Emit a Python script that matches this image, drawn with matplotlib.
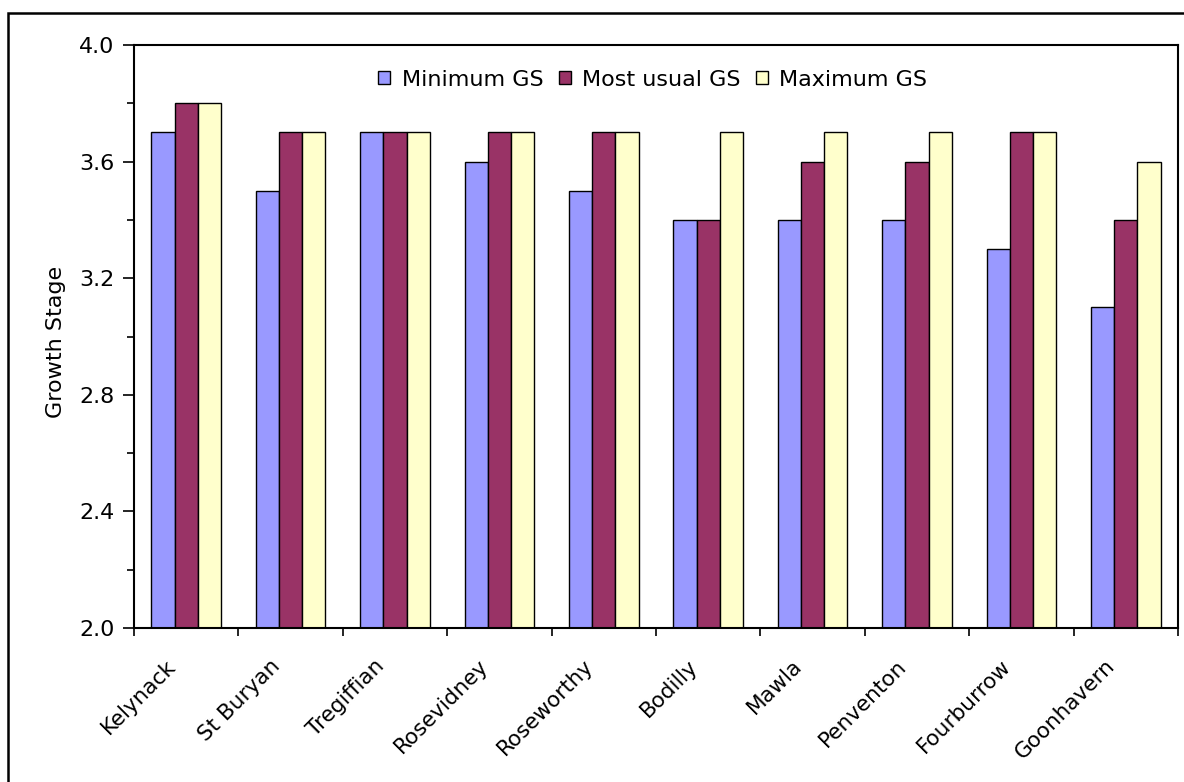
import matplotlib.pyplot as plt
from matplotlib.patches import Rectangle
from matplotlib.ticker import MultipleLocator, FixedLocator
from matplotlib.transforms import ScaledTranslation
import numpy as np

plt.rcParams['font.family'] = ['DejaVu Sans']

sites = ['Kelynack', 'St Buryan', 'Tregiffian', 'Rosevidney', 'Roseworthy',
         'Bodilly', 'Mawla', 'Penventon', 'Fourburrow', 'Goonhavern']
min_gs = [3.7, 3.5, 3.7, 3.6, 3.5, 3.4, 3.4, 3.4, 3.3, 3.1]
usual_gs = [3.8, 3.7, 3.7, 3.7, 3.7, 3.4, 3.6, 3.6, 3.7, 3.4]
max_gs = [3.8, 3.7, 3.7, 3.7, 3.7, 3.7, 3.7, 3.7, 3.7, 3.6]

series = [('Minimum GS', min_gs, '#9999FF'),
          ('Most usual GS', usual_gs, '#993366'),
          ('Maximum GS', max_gs, '#FFFFCC')]

fig = plt.figure(figsize=(11.84, 7.82), dpi=100)
ax = fig.add_axes([134 / 1184, 1 - 628 / 782, 1044 / 1184, 583 / 782])

x = np.arange(len(sites))
w = 1 / 4.5
for i, (name, vals, col) in enumerate(series):
    ax.bar(x + (i - 1) * w, np.array(vals) - 2.0, bottom=2.0, width=w,
           color=col, edgecolor='black', linewidth=1.0, label=name)

ax.set_xlim(-0.5, len(sites) - 0.5)
ax.set_ylim(2.0, 4.0)
ax.yaxis.set_major_locator(MultipleLocator(0.4))
ax.yaxis.set_minor_locator(MultipleLocator(0.2))
ax.yaxis.set_major_formatter(plt.FormatStrFormatter('%.1f'))
ax.tick_params(axis='y', which='major', length=8, width=1.2, labelsize=16, pad=6)
ax.tick_params(axis='y', which='minor', length=5, width=1.2)

# category boundaries get the tick marks, names sit at the centres
ax.xaxis.set_major_locator(FixedLocator(np.arange(len(sites) + 1) - 0.5))
ax.xaxis.set_minor_locator(FixedLocator(x))
ax.set_xticklabels([])
ax.set_xticklabels(sites, minor=True, rotation=45, ha='right',
                   rotation_mode='anchor', fontsize=15.5)
ax.tick_params(axis='x', which='major', length=6, width=1.2)
ax.tick_params(axis='x', which='minor', length=0, pad=20)
shift = ScaledTranslation(-21 / 100, 0, fig.dpi_scale_trans)
for lbl in ax.get_xticklabels(minor=True):
    lbl.set_transform(lbl.get_transform() + shift)

for s in ax.spines.values():
    s.set_linewidth(1.5)

ax.set_ylabel('Growth Stage', fontsize=16)
ax.yaxis.set_label_coords((66 - 134) / 1044, 0.49)

ax.legend(loc='upper center', bbox_to_anchor=(0.497, 0.992), ncol=3, frameon=False,
          fontsize=16, handlelength=0.55, handleheight=0.55, handletextpad=0.5,
          columnspacing=0.7)

# outer chart border
fig.patches.append(Rectangle((8 / 1184, -0.05), 1.1, 1 - 13 / 782 + 0.05,
                             transform=fig.transFigure, fill=False,
                             edgecolor='black', linewidth=1.8))

fig.savefig('out.png', dpi=100)
